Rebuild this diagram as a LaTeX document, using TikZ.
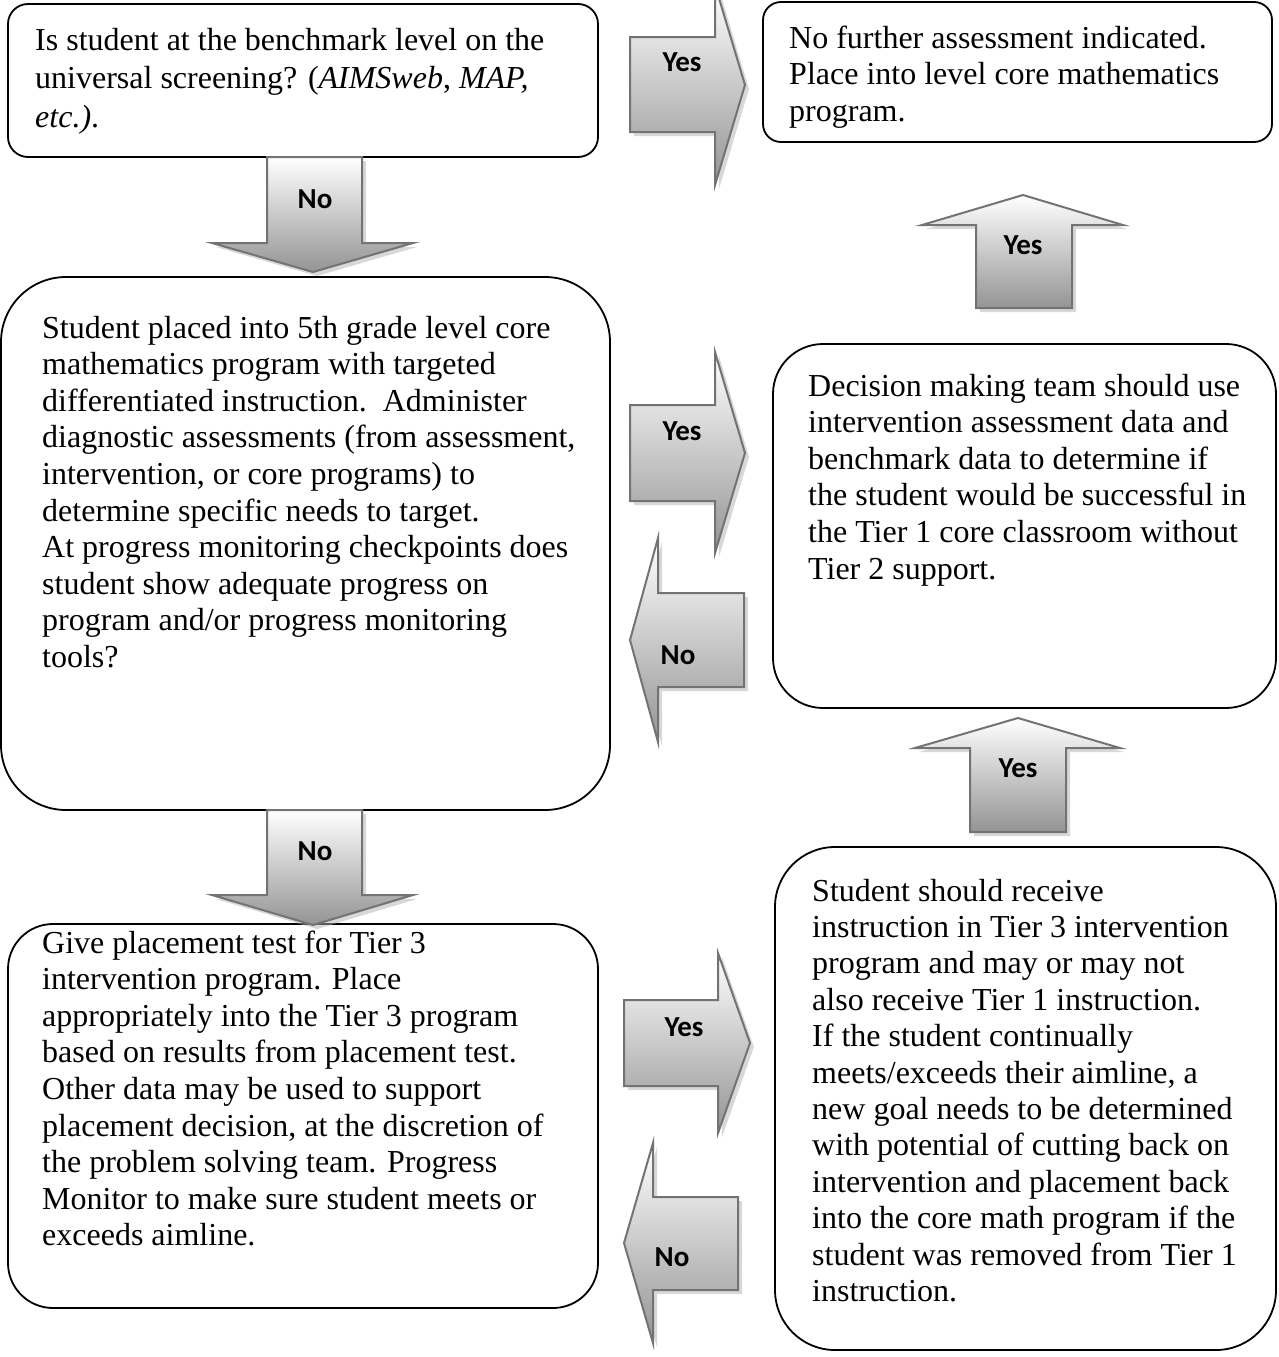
\documentclass[tikz,border=0pt]{standalone}
\usepackage{fontspec}
\setmainfont{Liberation Serif}
\newfontfamily\lblfont{Carlito}
\usetikzlibrary{shadows}
\begin{document}
\begin{tikzpicture}[x=1pt,y=-1pt,
  box/.style={draw=black, line width=1.8pt, fill=white, anchor=north west, inner sep=0pt, outer sep=0pt},
  txt/.style={anchor=base west, inner sep=0pt, font=\fontsize{32}{36.6}\selectfont},
  barrow/.style={draw=black!55, line width=2pt, line join=miter, top color=white, bottom color=black!42,
    drop shadow={shadow xshift=4pt, shadow yshift=-4pt, fill=black!30, opacity=0.5}},
  lbl/.style={font=\lblfont\bfseries\fontsize{29}{31}\selectfont, inner sep=0pt}
]
\useasboundingbox (0,0) rectangle (1278,1357);

% boxes
\node[box, minimum width=590pt, minimum height=153pt, rounded corners=20pt] (b1) at (8,4) {};
\node[box, minimum width=509pt, minimum height=140pt, rounded corners=18pt] (b2) at (763,2) {};
\node[box, minimum width=609pt, minimum height=533pt, rounded corners=65pt] (b3) at (1,277) {};
\node[box, minimum width=503pt, minimum height=364pt, rounded corners=50pt] (b4) at (773,344) {};
\node[box, minimum width=590pt, minimum height=384pt, rounded corners=45pt] (b5) at (8,924) {};
\node[box, minimum width=501pt, minimum height=503pt, rounded corners=60pt] (b6) at (775,847) {};

% texts
\node[txt, font=\fontsize{32}{38.5}\selectfont] (t1) at (35,50) {\parbox[t]{600pt}{\raggedright
Is student at the benchmark level on the\\
universal screening? (\textit{AIMSweb}, \textit{MAP,}\\
\textit{etc.)}.}};
\node[txt] (t2) at (789,48) {\parbox[t]{600pt}{\raggedright
No further assessment indicated.\\
Place into level core mathematics\\
program.}};
\node[txt] (t3) at (42,338) {\parbox[t]{700pt}{\raggedright
Student placed into 5th grade level core\\
mathematics program with targeted\\
differentiated instruction.\ \ Administer\\
diagnostic assessments (from assessment,\\
intervention, or core programs) to\\
determine specific needs to target.\\
At progress monitoring checkpoints does\\
student show adequate progress on\\
program and/or progress monitoring\\
tools?}};
\node[txt] (t4) at (808,396) {\parbox[t]{600pt}{\raggedright
Decision making team should use\\
intervention assessment data and\\
benchmark data to determine if\\
the student would be successful in\\
the Tier 1 core classroom without\\
Tier 2 support.}};
\node[txt] (t5) at (42,953) {\parbox[t]{700pt}{\raggedright
Give placement test for Tier 3\\
intervention program. Place\\
appropriately into the Tier 3 program\\
based on results from placement test.\\
Other data may be used to support\\
placement decision, at the discretion of\\
the problem solving team. Progress\\
Monitor to make sure student meets or\\
exceeds aimline.}};
\node[txt, font=\fontsize{32}{36.4}\selectfont] (t6) at (812,901) {\parbox[t]{600pt}{\raggedright
Student should receive\\
instruction in Tier 3 intervention\\
program and may or may not\\
also receive Tier 1 instruction.\\
If the student continually\\
meets/exceeds their aimline, a\\
new goal needs to be determined\\
with potential of cutting back on\\
intervention and placement back\\
into the core math program if the\\
student was removed from Tier 1\\
instruction.}};

% block arrows
\path[barrow] (630,37) -- (715,37) -- (715,-15) -- (745,85) -- (715,185) -- (715,132) -- (630,132) -- cycle;
\path[barrow] (267,157) -- (362,157) -- (362,243) -- (413,243) -- (313,272) -- (212,243) -- (267,243) -- cycle;
\path[barrow] (976,308) -- (976,225) -- (922,225) -- (1023,195) -- (1123,225) -- (1072,225) -- (1072,308) -- cycle;
\path[barrow] (630,405) -- (715,405) -- (715,352) -- (745,453) -- (715,553) -- (715,501) -- (630,501) -- cycle;
\path[barrow] (744,593) -- (658,593) -- (658,538) -- (630,640) -- (658,742) -- (658,687) -- (744,687) -- cycle;
\path[barrow] (970,832) -- (970,748) -- (915,748) -- (1018,718) -- (1120,748) -- (1066,748) -- (1066,832) -- cycle;
\path[barrow] (267,810) -- (362,810) -- (362,895) -- (413,895) -- (313,925) -- (212,895) -- (267,895) -- cycle;
\path[barrow] (624,1000) -- (718,1000) -- (718,953) -- (750,1043) -- (718,1133) -- (718,1086) -- (624,1086) -- cycle;
\path[barrow] (738,1197) -- (653,1197) -- (653,1143) -- (624,1243) -- (653,1343) -- (653,1290) -- (738,1290) -- cycle;

% labels
\node[lbl] (l1) at (682,62) {Yes};
\node[lbl] (l2) at (315,199) {No};
\node[lbl] (l3) at (1023,245) {Yes};
\node[lbl] (l4) at (682,431) {Yes};
\node[lbl] (l5) at (678,655) {No};
\node[lbl] (l6) at (1018,768) {Yes};
\node[lbl] (l7) at (315,851) {No};
\node[lbl] (l8) at (684,1027) {Yes};
\node[lbl] (l9) at (672,1257) {No};
\end{tikzpicture}
\end{document}
